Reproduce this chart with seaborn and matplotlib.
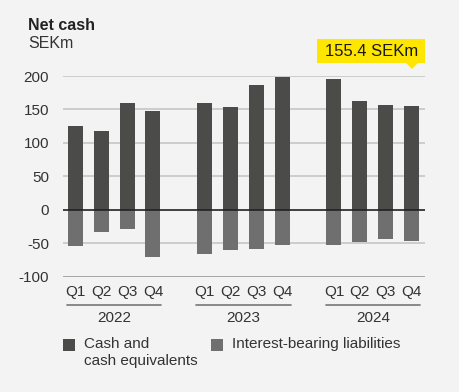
import numpy as np
import pandas as pd
import seaborn as sns
import matplotlib.pyplot as plt
from matplotlib.patches import Rectangle, Polygon
import matplotlib.transforms as mtransforms

years = ["2022", "2023", "2024"]
quarters = ["Q1", "Q2", "Q3", "Q4"]
cash = [126, 118, 160, 148, 159, 154, 187, 198, 196, 162, 157, 155.4]
liabilities = [-54, -33, -28, -70, -66, -59, -58, -52, -52, -48, -43, -46]
yticks = [-100, -50, 0, 50, 100, 150, 200]
series_names = ["Cash and\ncash equivalents", "Interest-bearing liabilities"]
title = "Net cash"
unit = "SEKm"
callout = "155.4 SEKm"

BG = "#f3f3f3"
C_CASH = "#4b4b49"
C_LIAB = "#6f6f6f"
TXT = "#333333"

sns.set_theme(style="white")
plt.rcParams["font.family"] = ["Liberation Sans", "DejaVu Sans"]

# positions: one empty slot between years
pos = []
for yi in range(len(years)):
    for qi in range(len(quarters)):
        pos.append(yi * 5 + qi)

df = pd.DataFrame({
    "pos": pos * 2,
    "value": cash + liabilities,
    "series": [series_names[0]] * len(cash) + [series_names[1]] * len(liabilities),
})

fig = plt.figure(figsize=(4.6, 3.92), dpi=100, facecolor=BG)
ax = fig.add_axes([63 / 460, 1 - 277 / 392, (425 - 63) / 460, (277 - 76) / 392])
ax.set_facecolor(BG)

for y in yticks:
    if y == 0:
        continue
    col = "#9a9a9a" if y == -100 else "#c6c6c6"
    ax.axhline(y, color=col, lw=1.2, zorder=0)

sns.barplot(data=df, x="pos", y="value", hue="series", native_scale=True,
            palette=[C_CASH, C_LIAB], width=0.58, dodge=False, legend=False,
            saturation=1, linewidth=0, ax=ax, zorder=2)
ax.axhline(0, color="#222222", lw=1.2, zorder=3)

ax.set_xlim(-0.48, 13.52)
ax.set_ylim(-100, 200)
ax.set_yticks(yticks)
ax.set_yticklabels([str(v) for v in yticks], fontsize=11, color=TXT)
ax.set_xticks(pos)
ax.set_xticklabels(quarters * len(years), fontsize=11, color=TXT)
ax.tick_params(axis="both", length=0)
ax.tick_params(axis="y", pad=10)
ax.tick_params(axis="x", pad=6)
ax.set_xlabel("")
ax.set_ylabel("")
for s in ax.spines.values():
    s.set_visible(False)

trans = mtransforms.blended_transform_factory(ax.transData, fig.transFigure)
for yi, yr in enumerate(years):
    x0 = yi * 5 - 0.32
    x1 = yi * 5 + 3 + 0.32
    ax.plot([x0, x1], [1 - 305 / 392] * 2, transform=trans, color="#777777",
            lw=1.2, clip_on=False)
    ax.text((x0 + x1) / 2, 1 - 318 / 392, yr, transform=trans, ha="center",
            va="center", fontsize=11, color=TXT)

fig.text(28 / 460, 1 - 25 / 392, title, fontsize=11.5, fontweight="bold",
         color="#222222", va="center", ha="left")
fig.text(28 / 460, 1 - 43.5 / 392, unit, fontsize=11.5, color=TXT, va="center",
         ha="left")

# callout
W, H = 460, 392
fig.patches.append(Rectangle((317 / W, 1 - 63 / H), (425 - 317) / W, 24 / H,
                             transform=fig.transFigure, facecolor="#ffe600",
                             edgecolor="none"))
fig.patches.append(Polygon([(406 / W, 1 - 63 / H), (418 / W, 1 - 63 / H),
                            (412 / W, 1 - 69 / H)], closed=True,
                           transform=fig.transFigure, facecolor="#ffe600",
                           edgecolor="none"))
fig.text(371.5 / W, 1 - 51.5 / H, callout, fontsize=12, color="#1a1a1a",
         ha="center", va="center")

# legend
fig.patches.append(Rectangle((63 / W, 1 - 351 / H), 12 / W, 12 / H,
                             transform=fig.transFigure, facecolor=C_CASH,
                             edgecolor="none"))
fig.text(84 / W, 1 - 337 / H, series_names[0], fontsize=11, color=TXT,
         ha="left", va="top", linespacing=1.25)
fig.patches.append(Rectangle((211 / W, 1 - 351 / H), 12 / W, 12 / H,
                             transform=fig.transFigure, facecolor=C_LIAB,
                             edgecolor="none"))
fig.text(232 / W, 1 - 337 / H, series_names[1], fontsize=11, color=TXT,
         ha="left", va="top")

fig.savefig("out.png", dpi=100, facecolor=BG)
